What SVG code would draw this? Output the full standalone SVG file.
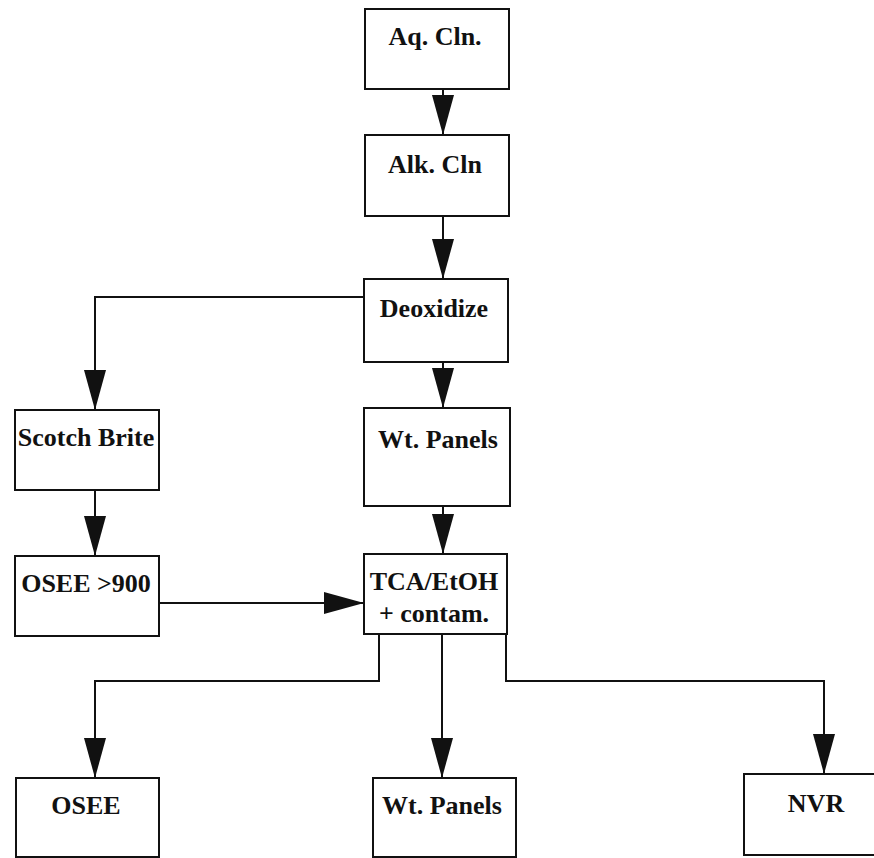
<svg xmlns="http://www.w3.org/2000/svg" width="874" height="858" viewBox="0 0 874 858">
<style>
.box{fill:#fff;stroke:#111;stroke-width:2}
.lbl{font-family:"Liberation Serif","Times New Roman",serif;font-weight:bold;font-size:26px;fill:#111;text-anchor:middle}
.con{fill:none;stroke:#111;stroke-width:2}
</style>
<defs>
<marker id="ah" markerUnits="userSpaceOnUse" markerWidth="40" markerHeight="22" refX="40" refY="11" orient="auto">
<path d="M0,0 L40,11 L0,22 z" fill="#111"/>
</marker>
</defs>
<rect width="874" height="858" fill="#fff"/>
<g id="connectors">
<path class="con" d="M443,89 V135" marker-end="url(#ah)"/>
<path class="con" d="M443,216 V279" marker-end="url(#ah)"/>
<path class="con" d="M364,297 H95 V410" marker-end="url(#ah)"/>
<path class="con" d="M443,362 V408" marker-end="url(#ah)"/>
<path class="con" d="M443,506 V554" marker-end="url(#ah)"/>
<path class="con" d="M95,490 V556" marker-end="url(#ah)"/>
<path class="con" d="M159,603 H364" marker-end="url(#ah)"/>
<path class="con" d="M379,634 V681 H95 V778" marker-end="url(#ah)"/>
<path class="con" d="M442,634 V778" marker-end="url(#ah)"/>
<path class="con" d="M506,634 V681 H824 V774" marker-end="url(#ah)"/>
</g>
<g id="aq"><rect class="box" x="365" y="9" width="144" height="80"/><text class="lbl" x="435" y="45">Aq. Cln.</text></g>
<g id="alk"><rect class="box" x="365" y="135" width="144" height="81"/><text class="lbl" x="435" y="173">Alk. Cln</text></g>
<g id="deox"><rect class="box" x="364" y="279" width="144" height="83"/><text class="lbl" x="434" y="317">Deoxidize</text></g>
<g id="scotch"><rect class="box" x="15" y="410" width="144" height="80"/><text class="lbl" x="86" y="446">Scotch Brite</text></g>
<g id="wtpanels1"><rect class="box" x="364" y="408" width="146" height="98"/><text class="lbl" x="438" y="448">Wt. Panels</text></g>
<g id="osee900"><rect class="box" x="15" y="556" width="144" height="80"/><text class="lbl" x="86" y="592">OSEE &gt;900</text></g>
<g id="tca"><rect class="box" x="364" y="554" width="143" height="80"/><text class="lbl" x="434" y="590">TCA/EtOH</text><text class="lbl" x="434" y="622">+ contam.</text></g>
<g id="osee"><rect class="box" x="16" y="778" width="143" height="79"/><text class="lbl" x="86" y="814">OSEE</text></g>
<g id="wtpanels2"><rect class="box" x="373" y="778" width="143" height="79"/><text class="lbl" x="442" y="814">Wt. Panels</text></g>
<g id="nvr"><rect class="box" x="744" y="774" width="140" height="81"/><text class="lbl" x="816" y="812">NVR</text></g>
</svg>
